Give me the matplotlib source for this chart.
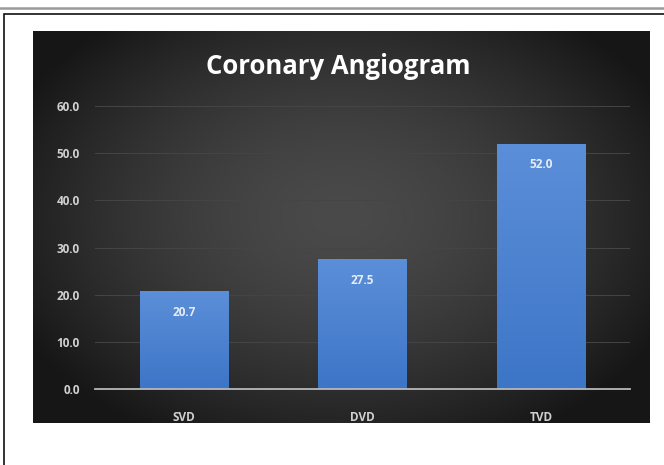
import numpy as np
import matplotlib
matplotlib.use("Agg")
import matplotlib.pyplot as plt
from matplotlib.patches import Rectangle
from matplotlib.lines import Line2D

# Data
categories = ["SVD", "DVD", "TVD"]
values = [20.7, 27.5, 52.0]
y_ticks = [0, 10, 20, 30, 40, 50, 60]
title = "Coronary Angiogram"

W, H = 664, 465
fig = plt.figure(figsize=(W / 100, H / 100), dpi=100)
fig.patch.set_facecolor("white")

# Page decorations: grey rule on top and a thin black frame
fig.add_artist(Line2D([0, 1], [1 - 8.5 / H, 1 - 8.5 / H], color="#9a9a9a", lw=1.8,
                      transform=fig.transFigure))
fig.add_artist(Rectangle((4 / W, -0.1), 1.2, 1 - 14 / H + 0.1, transform=fig.transFigure,
                         fill=False, edgecolor="#111111", lw=1.2))

# Dark chart area with radial shading
bx0, bx1 = 33 / W, 650 / W
by0, by1 = 1 - 423 / H, 1 - 31 / H
bg_ax = fig.add_axes([bx0, by0, bx1 - bx0, by1 - by0])
gx, gy = np.meshgrid(np.linspace(-1, 1, 400), np.linspace(-1, 1, 300))
r = np.sqrt((gx / 1.05) ** 2 + ((gy + 0.05) / 1.15) ** 2)
shade = np.clip(0.29 - 0.17 * r ** 1.6, 0.09, 0.3)
bg_ax.imshow(np.dstack([shade, shade, shade]), aspect="auto", extent=[0, 1, 0, 1],
             interpolation="bicubic")
bg_ax.set_axis_off()

# Plot area
ax_left, ax_right = 95 / W, 630 / W
ax_bottom, ax_top = 1 - 389 / H, 1 - 106 / H
ax = fig.add_axes([ax_left, ax_bottom, ax_right - ax_left, ax_top - ax_bottom])
ax.patch.set_alpha(0)
x = np.arange(len(categories))
bars = ax.bar(x, values, width=0.495, color="#4a80cc", zorder=2)

# Vertical blue gradient on each bar
grad = np.linspace(0, 1, 256).reshape(-1, 1)
top_c = np.array([0.36, 0.56, 0.85])
bot_c = np.array([0.24, 0.46, 0.78])
grad_img = (bot_c[None, None, :] * (1 - grad[..., None]) + top_c[None, None, :] * grad[..., None])
for b in bars:
    bx, bw, bh = b.get_x(), b.get_width(), b.get_height()
    im = ax.imshow(grad_img, extent=[bx, bx + bw, 0, bh], origin="lower",
                   aspect="auto", zorder=3)
    im.set_clip_path(b)

ax.set_xlim(-0.5, len(categories) - 0.5)
ax.set_ylim(0, 60)
ax.set_yticks(y_ticks)
ax.set_yticklabels([f"{t:.1f}" for t in y_ticks])
ax.set_xticks(x)
ax.set_xticklabels(categories)
ax.grid(axis="y", color="#454545", lw=0.7, zorder=0)
ax.set_axisbelow(True)
for s in ["top", "right", "left"]:
    ax.spines[s].set_visible(False)
ax.spines["bottom"].set_color("#b8b8b8")
ax.spines["bottom"].set_linewidth(1.3)
ax.spines["bottom"].set_zorder(4)
ax.tick_params(axis="both", length=0, colors="#d0d0d0")
ax.tick_params(axis="y", pad=11)
ax.tick_params(axis="x", pad=16)
for lbl in ax.get_yticklabels() + ax.get_xticklabels():
    lbl.set_fontfamily("Open Sans")
    lbl.set_fontweight("bold")
    lbl.set_fontsize(8.5)
    lbl.set_color("#d0d0d0")

# Value labels inside the bars
for xi, v in zip(x, values):
    ax.annotate(f"{v:.1f}", (xi, v), xytext=(0, -21), textcoords="offset pixels",
                ha="center", va="center", color="#e6ecf6", fontsize=8.5,
                fontweight="bold", family="Open Sans", zorder=5)

fig.text((bx0 + bx1) / 2 - 3 / W, 1 - 66 / H, title, ha="center", va="center",
         color="white", fontsize=18.5, fontweight="bold", family="Open Sans")

fig.savefig("out.png", dpi=100, facecolor="white")
